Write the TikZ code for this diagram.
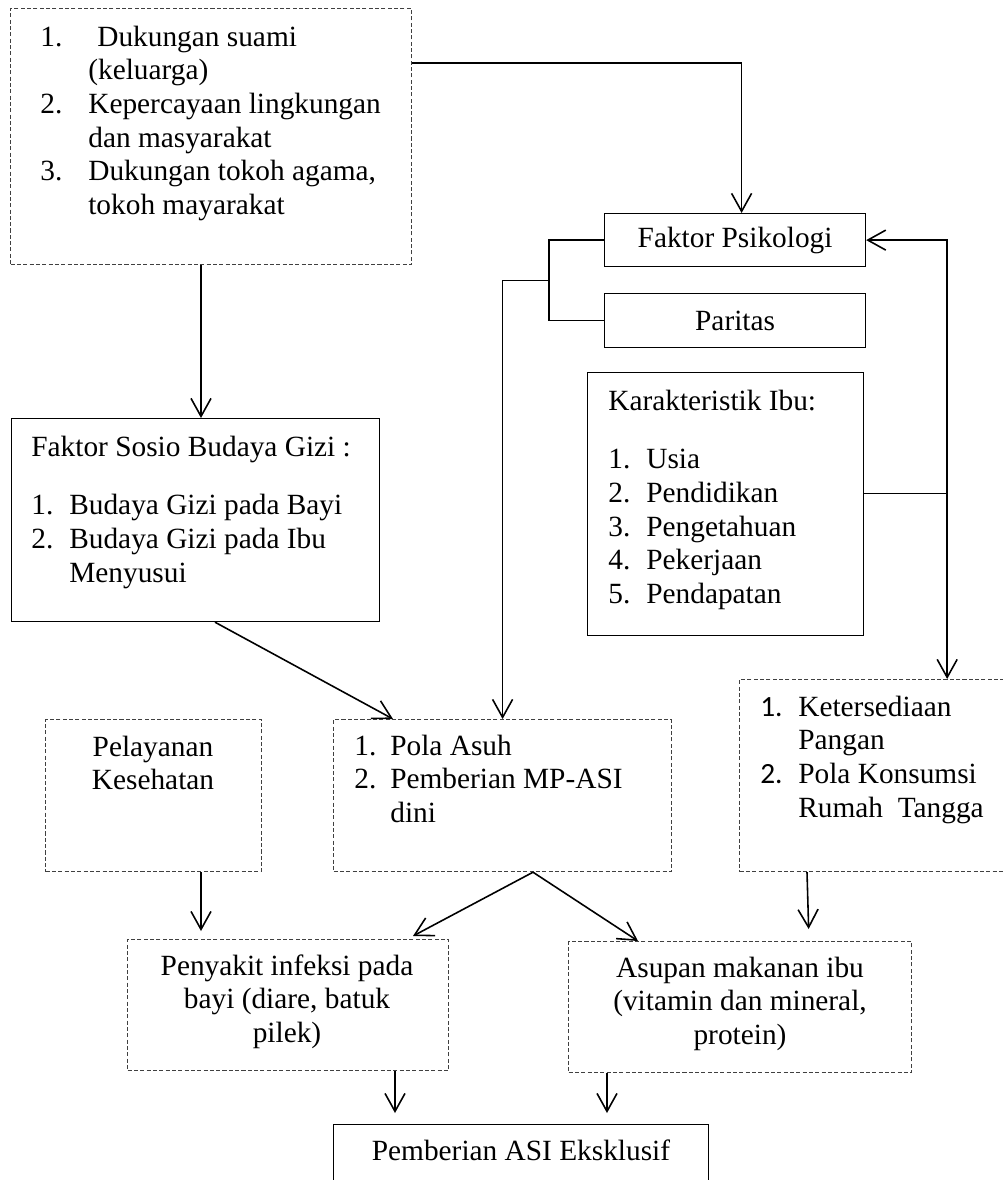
\documentclass[tikz,border=0pt]{standalone}
\usepackage{fontspec}
\setmainfont{Liberation Serif}
\newfontfamily\numfont{Carlito}
\usetikzlibrary{arrows.meta,calc}

\begin{document}
\begin{tikzpicture}[x=0.02cm, y=-0.02cm,
  >={Straight Barb[length=0.36cm,width=0.4cm]},
  box/.style={draw=black, line width=0.7pt, anchor=north west, inner sep=0pt,
    font=\fontsize{16.7}{19.2}\selectfont},
  dbox/.style={box, draw=black!75, dash pattern=on 2.3pt off 1.3pt},
  txt/.style={inner sep=0pt, font=\fontsize{16.7}{19.2}\selectfont},
  conn/.style={line width=0.9pt}
]
\useasboundingbox (0,0) rectangle (1003,1180);

% ================= TOP: BOXES =================
\node[dbox, minimum width=8.02cm, minimum height=5.12cm] (dukungan) at (10,8) {};
\node[txt, anchor=base west] (dukunganTxt) at (40,46) {%
  \begin{tabular}[t]{@{}p{0.96cm}@{}l@{}}
  1. & \hspace{0.18cm}Dukungan suami\\
     & (keluarga)\\
  2. & Kepercayaan lingkungan\\
     & dan masyarakat\\
  3. & Dukungan tokoh agama,\\
     & tokoh mayarakat
  \end{tabular}};

\node[box, minimum width=5.22cm, minimum height=1.06cm] (psikologi) at (604,213) {Faktor Psikologi};
\node[box, minimum width=5.22cm, minimum height=1.08cm] (paritas) at (604,293) {Paritas};

% Karakteristik ibu
\node[box, minimum width=5.52cm, minimum height=5.26cm] (karakteristik) at (587,372) {};
\node[txt, anchor=base west] (karakteristikTxt) at (608,410) {%
  \begin{tabular}[t]{@{}p{0.76cm}@{}l@{}}
  \multicolumn{2}{@{}l@{}}{Karakteristik Ibu:}\\[0.5cm]
  1. & Usia\\
  2. & Pendidikan\\
  3. & Pengetahuan\\
  4. & Pekerjaan\\
  5. & Pendapatan
  \end{tabular}};

% Sosio budaya
\node[box, minimum width=7.36cm, minimum height=4.06cm] (sosio) at (11,418) {};
\node[txt, anchor=base west] (sosioTxt) at (31,456) {%
  \begin{tabular}[t]{@{}p{0.76cm}@{}l@{}}
  \multicolumn{2}{@{}l@{}}{Faktor Sosio Budaya Gizi :}\\[0.5cm]
  1. & Budaya Gizi pada Bayi\\
  2. & Budaya Gizi pada Ibu\\
     & Menyusui
  \end{tabular}};

% ================= MIDDLE ROW =================
\node[dbox, minimum width=4.32cm, minimum height=3.04cm] (pelayanan) at (45,719) {};
\node[txt, anchor=base] (pelayananTxt) at (153,756) {%
  \begin{tabular}[t]{@{}c@{}}Pelayanan\\ Kesehatan\end{tabular}};

\node[dbox, minimum width=6.76cm, minimum height=3.04cm] (polaasuh) at (333,719) {};
\node[txt, anchor=base west] (polaasuhTxt) at (354,755) {%
  \begin{tabular}[t]{@{}p{0.72cm}@{}l@{}}
  1. & Pola Asuh\\
  2. & Pemberian MP-ASI\\
     & dini
  \end{tabular}};

\node[dbox, minimum width=5.6cm, minimum height=3.84cm] (pangan) at (739,679) {};
\node[txt, anchor=base west] (panganTxt) at (760,716) {%
  \begin{tabular}[t]{@{}p{0.76cm}@{}l@{}}
  {\numfont 1.} & Ketersediaan\\
     & Pangan\\
  {\numfont 2.} & Pola Konsumsi\\
     & Rumah\ \ Tangga
  \end{tabular}};

% ================= BOTTOM =================
\node[dbox, minimum width=6.42cm, minimum height=2.62cm] (penyakit) at (127,939) {};
\node[txt, anchor=base] (penyakitTxt) at (287,975) {%
  \begin{tabular}[t]{@{}c@{}}Penyakit infeksi pada\\ bayi (diare, batuk\\ pilek)\end{tabular}};

\node[dbox, minimum width=6.86cm, minimum height=2.62cm] (asupan) at (568,941) {};
\node[txt, anchor=base] (asupanTxt) at (740,977) {%
  \begin{tabular}[t]{@{}c@{}}Asupan makanan ibu\\ (vitamin dan mineral,\\ protein)\end{tabular}};

\node[box, minimum width=7.5cm, minimum height=1.4cm] (asi) at (333,1124) {};
\node[txt, anchor=base] (asiTxt) at (521,1160) {Pemberian ASI Eksklusif};

% ================= CONNECTORS =================
\draw[conn, ->] ($(dukungan.north east)+(0,55)$) -| ($(psikologi.north)+(6.5,0)$);
\coordinate (d1) at ($(dukungan.south west)+(191,0)$);
\draw[conn, ->] (d1) -- (d1 |- sosio.north);

% Bracket psikologi - paritas
\draw[conn] (psikologi.west) -- ++(-55,0) coordinate (brTop) |- (paritas.west);
\coordinate (brMid) at ($(brTop)!0.5!(brTop |- paritas.west)$);
\draw[conn, ->] (brMid) -| (polaasuh.north);

% Karakteristik ibu
\coordinate (k1) at ($(karakteristik.east)+(0,-10.5)$);
\coordinate (k2) at ($(k1)+(83,0)$);
\draw[conn, ->] (k1) -- (k2) |- (psikologi.east);
\draw[conn, ->] (k2) -- (k2 |- pangan.north);

\draw[conn, ->] ($(sosio.south west)+(204,0)$) -- ($(polaasuh.north west)+(60,0)$);

\coordinate (p1) at ($(pelayanan.south west)+(156,0)$);
\draw[conn, ->, shorten >=0.16cm] (p1) -- (p1 |- penyakit.north);

\coordinate (pa) at ($(polaasuh.south west)+(200,0)$);
\draw[conn, ->] (pa) -- ($(penyakit.north west)+(286,-3)$);
\draw[conn, ->] (pa) -- ($(asupan.north west)+(70,0)$);

\draw[conn, ->, shorten >=0.24cm] ($(pangan.south west)+(68,0)$) -- ($(asupan.north west)+(241,0)$);

\coordinate (q1) at ($(penyakit.south west)+(268,0)$);
\draw[conn, ->, shorten >=0.22cm] (q1) -- (q1 |- asi.north);
\coordinate (q2) at ($(asupan.south west)+(39,0)$);
\draw[conn, ->, shorten >=0.22cm] (q2) -- (q2 |- asi.north);

\end{tikzpicture}
\end{document}
